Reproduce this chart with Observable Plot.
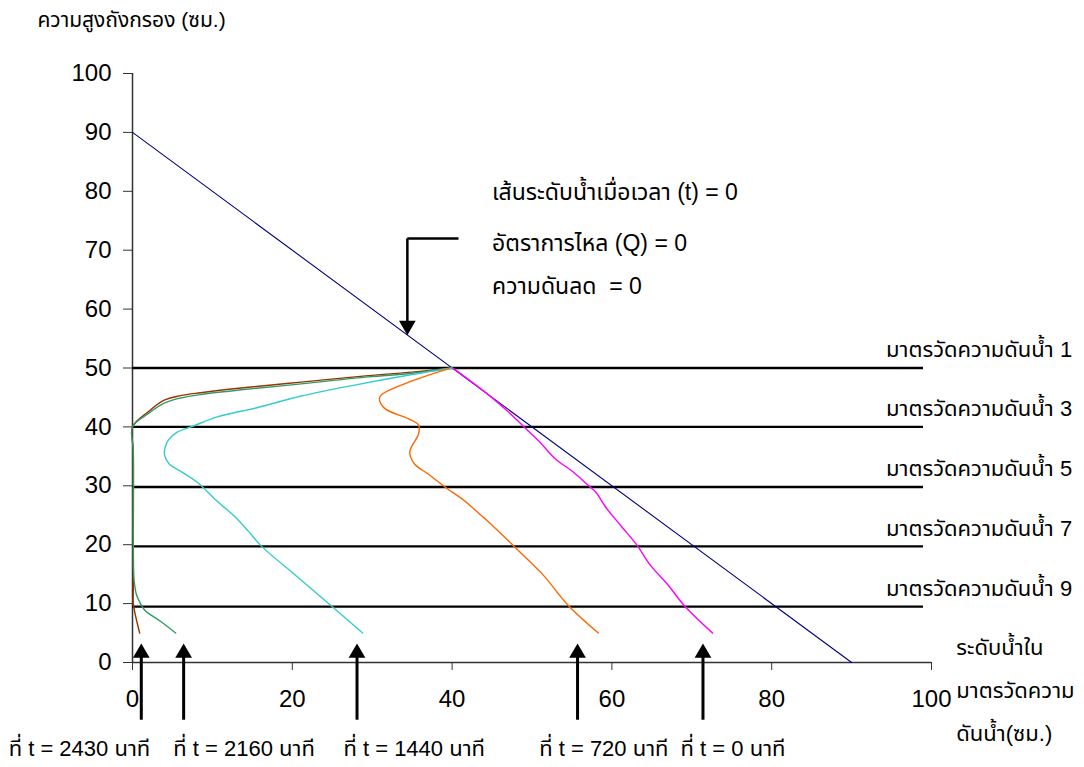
<!DOCTYPE html>
<html>
<head>
<meta charset="utf-8">
<script src="https://cdn.jsdelivr.net/npm/d3@7"></script>
<script src="https://cdn.jsdelivr.net/npm/@observablehq/plot@0.6"></script>
<style>
  html, body { margin: 0; padding: 0; background: #fff; }
  #chart svg { display: block; }
</style>
</head>
<body>
<div id="chart"></div>
<script>
// ---------- data ----------
const xTicks = [0, 20, 40, 60, 80, 100];
const yTicks = [0, 10, 20, 30, 40, 50, 60, 70, 80, 90, 100];

const gaugeLevels = [50, 40, 29.8, 19.7, 9.5];
const gaugeLabels = [
  "มาตรวัดความดันน้ำ 1",
  "มาตรวัดความดันน้ำ 3",
  "มาตรวัดความดันน้ำ 5",
  "มาตรวัดความดันน้ำ 7",
  "มาตรวัดความดันน้ำ 9"
];

// static water line (t = 0, Q = 0)
const staticLine = [[0, 90], [90, 0]];

// piezometric curves [gauge water level, filter height]
const curve2430 = [[40,50],[35,49.3],[29.5,48.7],[21.1,47.6],[13.6,46.6],[8.5,45.8],[6,45.3],[3.9,44.5],[2,42.6],[0,40],[0.1,36],[0.1,20],[0.1,12],[0.1,10],[0.9,5]];
const curve2160 = [[40,50],[35,49.1],[29.5,48.5],[21.1,47.3],[13.6,46.3],[8.5,45.5],[6,44.9],[3.9,44.0],[2,42.3],[0,40],[0.1,36],[0.1,20],[0.2,14],[0.5,11.5],[1.0,10],[1.6,8.8],[3.5,7],[5.4,5]];
const curve1440 = [[40,50],[35,48.9],[27.8,47.1],[21,45.2],[15.7,43.3],[10.6,41.7],[7.7,40.2],[5.6,39.1],[4.5,37.8],[4.1,36.6],[4.0,35.3],[4.6,33.7],[6,32.5],[8.1,30.6],[10.5,27.5],[12.7,24.9],[14.5,22.3],[16.1,19.8],[20.5,14.7],[24.9,9.6],[28.8,5]];
const curve720  = [[39.6,49.9],[35,47.8],[31.2,45.5],[30.9,44.8],[31.6,43.1],[34.5,41.4],[35.8,40.3],[35.8,38.8],[35.0,36.8],[34.7,35.7],[35.3,33.7],[37,32],[39.1,29.8],[41.5,27.5],[43.7,24.9],[45.8,22.3],[47.7,19.8],[51.3,15.0],[54.6,9.6],[58.3,5]];
const curve0    = [[40.2,49.9],[42.5,47.6],[44.6,45.4],[47,42.6],[49.0,40.0],[51.0,37.4],[52.9,34.6],[55,32.5],[57.1,30.0],[58.0,28.9],[59.2,26.4],[61.2,23.1],[63.2,19.8],[64.7,16.7],[67,13.2],[69.1,9.6],[72.6,5]];

// time markers (arrows under the curves)
const arrowX = [1.1, 6.4, 28.1, 55.7, 71.4];
const timeLabels = ["ที่ t = 2430 นาที", "ที่ t = 2160 นาที", "ที่ t = 1440 นาที", "ที่ t = 720 นาที", "ที่ t = 0 นาที"];
const timeLabelX = [-15.5, 5.1, 26.4, 50.9, 68.6];

const annotationLines = ["เส้นระดับน้ำเมื่อเวลา (t) = 0", "อัตราการไหล (Q) = 0", "ความดันลด  = 0"];
const annotationY = [79.7, 71.2, 63.9];

const yTitle = "ความสูงถังกรอง (ซม.)";
const xTitleLines = ["ระดับน้ำใน", "มาตรวัดความ", "ดันน้ำ(ซม.)"];
const xTitleY = [2.5, -4.8, -12.1];

// ---------- build ----------
const toPts = (arr) => arr.map(([x, y]) => ({x, y}));
const curves = [
  {pts: toPts(curve2430), color: "#993300"},
  {pts: toPts(curve2160), color: "#339966"},
  {pts: toPts(curve1440), color: "#33CCCC"},
  {pts: toPts(curve720),  color: "#FF6600"},
  {pts: toPts(curve0),    color: "#FF00FF"}
];

const font = "Arial, 'Liberation Sans', 'Noto Sans Thai', sans-serif";
const thaiSize = 22;

const plot = Plot.plot({
  width: 1084,
  height: 767,
  marginLeft: 132,
  marginRight: 153,
  marginTop: 73,
  marginBottom: 105,
  style: {fontFamily: font, fontSize: "18px", background: "#fff", color: "#000", overflow: "visible"},
  x: {domain: [0, 100]},
  y: {domain: [0, 100]},
  marks: [
    // axes
    Plot.axisY({ticks: yTicks, tickSize: 9, tickPadding: 12, fontSize: 24, label: null, stroke: "#333"}),
    Plot.axisX({ticks: xTicks, tickSize: 8, tickPadding: 19, fontSize: 24, label: null, stroke: "#333"}),
    Plot.ruleX([0], {y1: 0, y2: 100, stroke: "#333", strokeWidth: 1.5}),
    Plot.ruleY([0], {x1: 0, x2: 100, stroke: "#333", strokeWidth: 1.5}),

    // gauge levels
    Plot.ruleY(gaugeLevels, {y: d => d, x1: 0, x2: 99, stroke: "#000", strokeWidth: 2.3}),
    Plot.text(gaugeLabels, {x: 117.6, y: (d, i) => gaugeLevels[i], text: d => d, dy: -18, textAnchor: "end", fontSize: thaiSize, fill: "#000"}),

    // static water line
    Plot.line(toPts(staticLine), {x: "x", y: "y", stroke: "#000080", strokeWidth: 1.1}),

    // curves
    ...curves.map(c => Plot.line(c.pts, {x: "x", y: "y", stroke: c.color, strokeWidth: 1.4, curve: "catmull-rom"})),

    // time arrows
    Plot.ruleX(arrowX, {x: d => d, y1: -9.8, y2: 1.8, stroke: "#000", strokeWidth: 3}),
    Plot.dot(arrowX, {x: d => d, y: 3.2, symbol: "triangle", r: 6.2, fill: "#000", stroke: "none", dy: 9.4}),
    Plot.text(timeLabels, {x: (d, i) => timeLabelX[i], y: -14.7, text: d => d, textAnchor: "start", fontSize: thaiSize, fill: "#000"}),

    // callout arrow
    Plot.link([0], {x1: 34.4, x2: 40.8, y1: 72.0, y2: 72.0, stroke: "#000", strokeWidth: 2.5}),
    Plot.link([0], {x1: 34.4, x2: 34.4, y1: 72.0, y2: 57.6, stroke: "#000", strokeWidth: 2.5}),
    Plot.dot([0], {x: 34.4, y: 55.6, symbol: "triangle", r: 6.2, rotate: 180, fill: "#000", stroke: "none", dy: -9.4}),
    Plot.text(annotationLines, {x: 45.0, y: (d, i) => annotationY[i], text: d => d, textAnchor: "start", fontSize: 23, fill: "#000"}),

    // titles
    Plot.text([yTitle], {x: -11.9, y: 109.1, text: d => d, textAnchor: "start", fontSize: 21, fill: "#000"}),
    Plot.text(xTitleLines, {x: 103.1, y: (d, i) => xTitleY[i], text: d => d, textAnchor: "start", fontSize: thaiSize, fill: "#000"})
  ]
});

document.getElementById("chart").appendChild(plot);
</script>
</body>
</html>
